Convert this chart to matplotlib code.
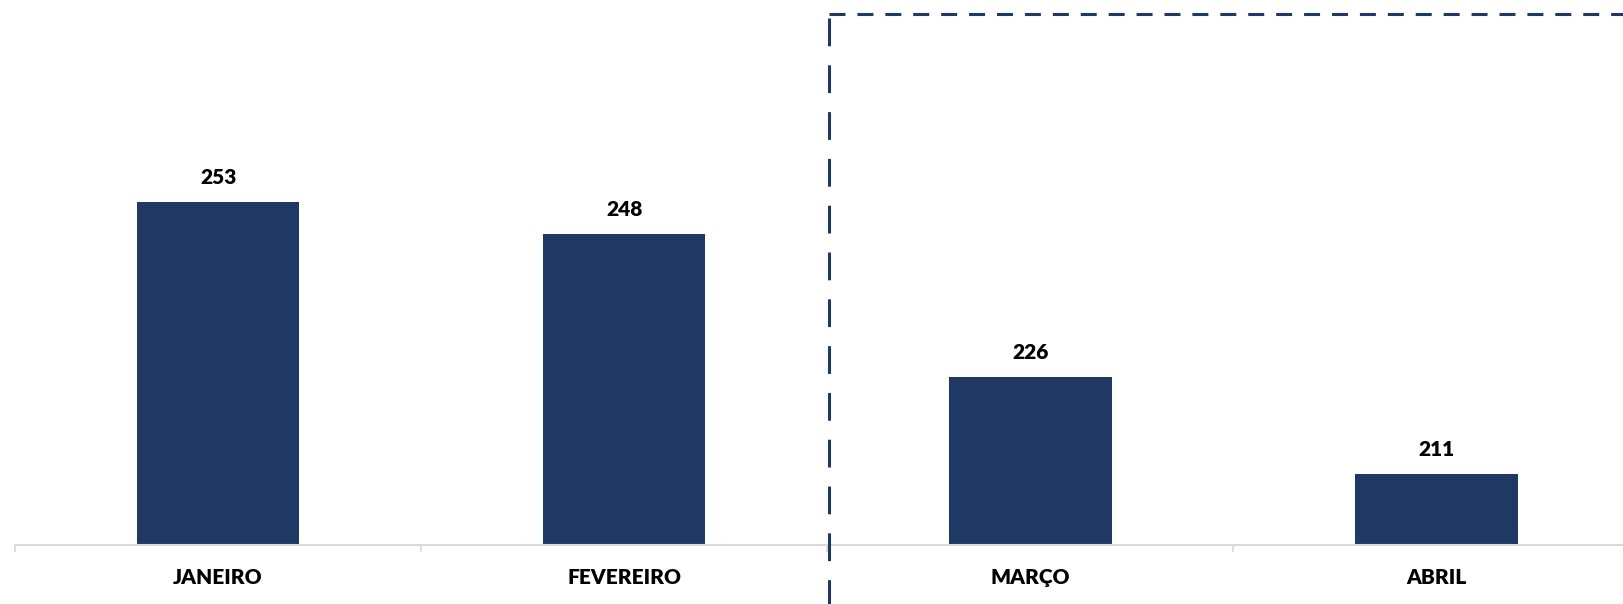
import matplotlib
matplotlib.use("Agg")
import matplotlib.pyplot as plt
from matplotlib.lines import Line2D

# データ
months = ["JANEIRO", "FEVEREIRO", "MARÇO", "ABRIL"]
values = [253, 248, 226, 211]

bar_color = "#203864"
axis_color = "#d9d9d9"

plt.rcParams["font.family"] = ["Lato", "DejaVu Sans"]
plt.rcParams["lines.scale_dashes"] = False

fig = plt.figure(figsize=(16.23, 6.04), dpi=100)
ax = fig.add_axes([0.00924, 0.0977, 1.001, 0.9023])

x = list(range(len(months)))
ax.bar(x, values, width=0.4, color=bar_color, zorder=2)

ax.set_xlim(-0.5, len(months) - 0.5)
ax.set_ylim(200, 284.2)

# 軸まわり
for side in ["top", "right", "left"]:
    ax.spines[side].set_visible(False)
ax.spines["bottom"].set_color(axis_color)
ax.spines["bottom"].set_linewidth(1.5)
ax.set_yticks([])
ax.set_xticks([i - 0.5 for i in range(len(months) + 1)])
ax.set_xticklabels([])
ax.tick_params(axis="x", direction="out", length=5, width=1.2, color=axis_color)

# ラベル
for i, (m, v) in enumerate(zip(months, values)):
    ax.annotate(str(v), (i, v), xytext=(0, 13), textcoords="offset points",
                ha="center", va="baseline", fontsize=15, fontweight="heavy")
    ax.annotate(m, (i, 200), xytext=(0, -28), textcoords="offset points",
                ha="center", va="baseline", fontsize=15, fontweight="heavy",
                annotation_clip=False)

# 点線の枠
x0 = 829 / 1623
y0 = 1 - 13.5 / 604
fig.add_artist(Line2D([x0, 1.0], [y0, y0], transform=fig.transFigure,
                      color=bar_color, lw=2.2, linestyle=(0, (11.5, 8.6))))
fig.add_artist(Line2D([x0, x0], [y0 - 0.008, 0.0], transform=fig.transFigure,
                      color=bar_color, lw=2.2, linestyle=(0, (20, 13.7))))

fig.savefig("out.png", dpi=100)
